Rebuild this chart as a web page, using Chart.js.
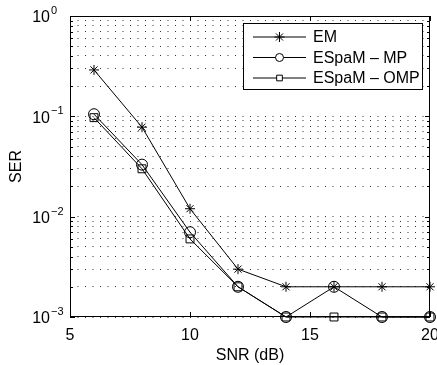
<!DOCTYPE html>
<html>
<head>
<meta charset="utf-8">
<script src="https://cdn.jsdelivr.net/npm/chart.js@4.4.0/dist/chart.umd.min.js"></script>
<style>
  html, body { margin: 0; padding: 0; background: #fff; }
  #wrap { width: 437px; height: 365px; }
</style>
</head>
<body>
<div id="wrap"><canvas id="c" width="437" height="365"></canvas></div>
<script>
// -- data
const snr = [6, 8, 10, 12, 14, 16, 18, 20];
const serEM = [0.29, 0.078, 0.012, 0.003, 0.002, 0.002, 0.002, 0.002];
const serMP = [0.105, 0.033, 0.007, 0.002, 0.001, 0.002, 0.001, 0.001];
const serOMP = [0.097, 0.030, 0.006, 0.002, 0.001, 0.001, 0.001, 0.001];
const xTicks = [5, 10, 15, 20];
const yExponents = [-3, -2, -1, 0];
const legendLabels = ["EM", "ESpaM \u2013 MP", "ESpaM \u2013 OMP"];

const FONT = "'Liberation Sans', Arial, Helvetica, sans-serif";

// all log ticks (major + minor) for the dotted grid
function logTicks() {
  const t = [];
  for (let i = 0; i < yExponents.length; i++) {
    const base = Math.pow(10, yExponents[i]);
    if (i === yExponents.length - 1) { t.push(base); break; }
    for (let m = 1; m <= 9; m++) t.push(m * base);
  }
  return t;
}

function pts(ys) {
  return snr.map((x, i) => ({ x: x, y: ys[i] }));
}

const styles = [
  { pointStyle: "star", radius: 5 },
  { pointStyle: "circle", radius: 5.5 },
  { pointStyle: "rect", radius: 5.6 },
];

// frame, inward ticks, y labels, legend
const decorPlugin = {
  id: "decor",
  afterDatasetsDraw(chart) {
    const ctx = chart.ctx;
    const a = chart.chartArea;
    const xs = chart.scales.x, ys = chart.scales.y;
    ctx.save();
    ctx.strokeStyle = "#000";
    ctx.lineWidth = 1;
    ctx.setLineDash([]);

    // frame
    ctx.beginPath();
    ctx.rect(a.left + 0.5, a.top + 0.5, a.right - a.left - 1, a.bottom - a.top - 1);
    ctx.stroke();

    // x ticks inward
    ctx.beginPath();
    xTicks.forEach((v) => {
      const px = Math.round(xs.getPixelForValue(v)) + 0.5;
      ctx.moveTo(px, a.bottom); ctx.lineTo(px, a.bottom - 5);
      ctx.moveTo(px, a.top); ctx.lineTo(px, a.top + 5);
    });
    // y ticks inward
    logTicks().forEach((v) => {
      const py = Math.round(ys.getPixelForValue(v)) + 0.5;
      const major = Math.abs(Math.log10(v) - Math.round(Math.log10(v))) < 1e-9;
      const len = major ? 5 : 3;
      ctx.moveTo(a.left, py); ctx.lineTo(a.left + len, py);
      ctx.moveTo(a.right, py); ctx.lineTo(a.right - len, py);
    });
    ctx.stroke();

    // y labels 10^n
    ctx.fillStyle = "#000";
    yExponents.forEach((e) => {
      const py = ys.getPixelForValue(Math.pow(10, e));
      ctx.font = "16px " + FONT;
      ctx.textAlign = "right";
      ctx.textBaseline = "middle";
      ctx.fillText("10", 50, py + 2);
      ctx.font = "11px " + FONT;
      ctx.textAlign = "left";
      ctx.fillText(e === 0 ? "0" : "\u2212" + Math.abs(e), 51, py - 5);
    });

    // y title
    ctx.save();
    ctx.translate(17, (a.top + a.bottom) / 2);
    ctx.rotate(-Math.PI / 2);
    ctx.font = "16px " + FONT;
    ctx.textAlign = "center";
    ctx.textBaseline = "middle";
    ctx.fillText("SER", 0, 0);
    ctx.restore();

    // legend
    const lx = 243, ly = 23, lw = 179, lh = 66;
    ctx.fillStyle = "#fff";
    ctx.fillRect(lx, ly, lw, lh);
    ctx.strokeRect(lx + 0.5, ly + 0.5, lw, lh);
    legendLabels.forEach((lab, i) => {
      const y = 37 + i * 20.5;
      ctx.beginPath();
      ctx.moveTo(253, y); ctx.lineTo(306, y);
      ctx.stroke();
      Chart.helpers.drawPoint(ctx, {
        pointStyle: styles[i].pointStyle,
        radius: i === 0 ? 5 : 4,
        rotation: 0,
        borderWidth: 1,
      }, 279.5, y);
      ctx.fillStyle = "#000";
      ctx.font = "16px " + FONT;
      ctx.textAlign = "left";
      ctx.textBaseline = "middle";
      ctx.fillText(lab, 313, y + 1);
      ctx.fillStyle = "#fff";
    });
    ctx.restore();
  },
};

const sets = [serEM, serMP, serOMP].map((ys, i) => ({
  label: legendLabels[i],
  data: pts(ys),
  borderColor: "#000",
  backgroundColor: "rgba(0,0,0,0)",
  borderWidth: 1,
  pointStyle: styles[i].pointStyle,
  pointRadius: styles[i].radius,
  pointBorderColor: "#000",
  pointBackgroundColor: "rgba(0,0,0,0)",
  pointBorderWidth: 1,
  tension: 0,
  clip: 8,
}));

new Chart(document.getElementById("c"), {
  type: "line",
  data: { datasets: sets },
  options: {
    responsive: false,
    animation: false,
    devicePixelRatio: 1,
    layout: { padding: { top: 16, right: 7, left: 0, bottom: 0 } },
    plugins: { legend: { display: false }, tooltip: { enabled: false } },
    scales: {
      x: {
        type: "linear",
        min: 5,
        max: 20,
        afterBuildTicks: (s) => { s.ticks = xTicks.map((v) => ({ value: v })); },
        grid: { display: false, drawTicks: false },
        border: { display: false },
        ticks: {
          color: "#000",
          font: { family: FONT, size: 16 },
          padding: 9,
          maxRotation: 0,
        },
        title: {
          display: true,
          text: "SNR (dB)",
          color: "#000",
          font: { family: FONT, size: 16 },
          padding: { top: 0, bottom: 0 },
        },
        afterFit: (s) => {
          s.height = 48;
          s.paddingLeft = 0;
          s.paddingRight = 0;
        },
      },
      y: {
        type: "logarithmic",
        min: 1e-3,
        max: 1,
        afterBuildTicks: (s) => { s.ticks = logTicks().map((v) => ({ value: v })); },
        grid: {
          color: "#333",
          lineWidth: 1,
          drawTicks: false,
        },
        border: { display: false, dash: [1, 6.5] },
        ticks: { display: false },
        afterFit: (s) => { s.width = 70; },
      },
    },
  },
  plugins: [decorPlugin],
});
</script>
</body>
</html>
